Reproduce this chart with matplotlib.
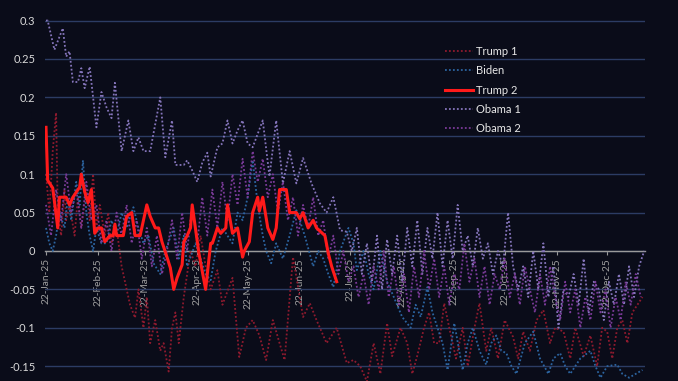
import matplotlib
matplotlib.use("Agg")
import matplotlib.pyplot as plt
import matplotlib.dates as mdates
from matplotlib.ticker import FuncFormatter
import datetime as dt

start = dt.date(2025, 1, 22)

series_names = ["Trump 1", "Biden", "Trump 2", "Obama 1", "Obama 2"]

trump1_days = [0,2,4,6,7,9,11,12,14,17,19,21,24,26,28,30,32,35,37,39,42,45,47,50,53,55,58,60,62,65,
               68,70,73,75,77,79,82,84,86,89,92,95,98,102,105,111,115,119,123,127,131,135,139,142,147,
               153,157,161,167,173,179,183,187,191,195,199,203,206,211,215,218,221,225,228,231,234,237,
               240,244,248,251,255,258,262,265,269,273,278,281,284,288,292,296,300,303,308,312,315,320,
               324,328,331,334,337,340,343,346,349,352,355]
trump1_vals = [0.1,0.05,0.13,0.18,0.05,0.02,0.08,0.04,0.06,0.02,0.07,0.03,0.08,0.04,0.1,0.03,0.06,0.02,0.05,0.01,
               0.03,-0.02,-0.04,-0.07,-0.087,-0.05,-0.1,-0.06,-0.12,-0.09,-0.13,-0.12,-0.157,-0.1,-0.08,
               -0.12,-0.06,-0.03,0.0,-0.02,0.02,-0.02,-0.05,-0.025,-0.07,-0.035,-0.138,-0.1,-0.09,-0.11,
               -0.142,-0.09,-0.12,-0.142,-0.008,-0.086,-0.068,-0.09,-0.12,-0.1,-0.146,-0.142,-0.15,-0.17,-0.12,
               -0.16,-0.094,-0.137,-0.1,-0.12,-0.16,-0.136,-0.1,-0.08,-0.12,-0.12,-0.068,-0.1,-0.14,-0.1,
               -0.15,-0.1,-0.068,-0.13,-0.1,-0.14,-0.09,-0.112,-0.14,-0.105,-0.13,-0.09,-0.077,-0.12,-0.1,
               -0.105,-0.14,-0.1,-0.137,-0.11,-0.15,-0.1,-0.105,-0.14,-0.1,-0.09,-0.12,-0.08,-0.07,-0.06]

biden_days = [0,2,4,6,8,11,13,15,18,20,22,24,26,28,30,33,36,39,42,45,48,52,55,58,61,64,68,71,76,79,
              82,84,89,92,95,98,101,105,108,111,114,117,120,123,126,129,131,134,137,141,145,149,154,159,162,
              165,168,171,175,178,180,183,185,189,192,195,199,203,207,212,217,220,223,227,230,233,236,239,243,248,
              251,254,258,262,265,268,271,274,277,280,285,290,294,299,302,306,309,312,318,324,327,330,334,340,343,
              347,351,355]
biden_vals = [0.03,0.01,0.0,0.02,0.05,0.03,0.07,0.04,0.09,0.06,0.118,0.05,0.02,0.0,0.03,0.01,0.01,0.04,0.02,0.05,
              0.03,0.057,0.03,0.01,0.02,-0.016,-0.03,0.0,0.03,-0.01,0.02,-0.02,0.01,-0.01,-0.03,-0.038,0.0,0.03,0.02,0.01,
              0.05,0.04,0.07,0.118,0.06,0.02,0.0,-0.016,0.01,-0.01,0.02,0.053,0.02,-0.02,0.0,-0.01,-0.03,-0.047,0.0,0.018,
              0.03,0.01,-0.025,0.0,-0.03,-0.05,0.0,-0.04,-0.06,-0.086,-0.1,-0.07,-0.086,-0.047,-0.08,-0.1,-0.12,-0.155,-0.094,-0.155,
              -0.12,-0.1,-0.13,-0.148,-0.12,-0.11,-0.13,-0.133,-0.15,-0.16,-0.12,-0.105,-0.14,-0.16,-0.14,-0.133,-0.15,-0.16,-0.14,-0.13,
              -0.15,-0.165,-0.15,-0.148,-0.16,-0.165,-0.16,-0.155]

trump2_days = [0,1,4,7,8,12,14,16,20,21,23,25,27,29,31,33,35,38,40,41,42,46,48,51,53,56,58,60,62,65,
               67,69,72,74,76,78,81,82,84,86,87,91,95,98,99,102,104,107,108,111,114,117,118,121,123,126,127,129,132,135,
               137,139,143,145,149,151,153,156,159,161,166,168,170,173]
trump2_vals = [0.161,0.092,0.082,0.03,0.07,0.07,0.06,0.07,0.083,0.10,0.077,0.063,0.08,0.023,0.03,0.03,0.012,0.02,0.02,0.035,
               0.02,0.02,0.045,0.05,0.02,0.02,0.04,0.06,0.045,0.03,0.03,0.012,-0.008,-0.022,-0.05,-0.035,-0.018,0.012,0.02,0.03,
               0.06,-0.003,-0.05,0.01,0.01,0.03,0.023,0.03,0.06,0.023,0.03,-0.008,0.0,0.012,0.05,0.07,0.052,0.07,0.03,0.015,
               0.03,0.08,0.08,0.05,0.05,0.042,0.05,0.03,0.04,0.03,0.02,-0.003,-0.02,-0.04]

obama1_days = [0,1,5,10,12,14,16,19,21,23,26,30,33,36,39,41,45,49,52,55,58,62,68,71,75,77,82,84,87,90,
               93,96,98,102,105,108,111,114,117,120,123,129,133,137,141,145,149,153,158,163,167,171,175,179,
               182,185,188,191,194,197,200,203,206,209,212,215,218,221,224,227,230,233,236,239,242,245,248,251,
               254,257,260,263,266,269,272,275,278,281,284,287,290,293,296,299,302,305,308,311,314,317,320,323,
               326,329,332,335,338,341,344,347,350,353,356]
obama1_vals = [0.30,0.30,0.262,0.29,0.253,0.26,0.22,0.22,0.238,0.212,0.24,0.161,0.207,0.187,0.173,0.219,0.13,0.17,0.13,0.148,
               0.13,0.13,0.2,0.122,0.17,0.112,0.112,0.118,0.105,0.09,0.115,0.128,0.097,0.135,0.14,0.17,0.14,0.157,0.17,0.14,
               0.135,0.17,0.097,0.17,0.088,0.13,0.088,0.121,0.088,0.062,0.05,0.07,0.027,0.025,
               0.0,0.03,-0.03,0.01,-0.04,0.02,-0.05,0.015,-0.03,0.02,-0.04,0.03,-0.02,0.04,-0.03,0.03,-0.01,0.05,-0.02,0.04,
               -0.01,0.06,0.0,0.02,-0.02,0.03,-0.01,0.01,-0.03,0.0,-0.02,0.05,-0.02,-0.05,-0.02,-0.06,0.0,-0.05,0.01,-0.06,
               -0.02,-0.1,-0.05,-0.06,-0.03,-0.07,-0.01,-0.08,-0.04,-0.05,-0.09,-0.04,-0.07,-0.03,-0.07,-0.02,-0.06,-0.02,0.0]

obama2_days = list(range(0, 357, 3))
obama2_vals = [0.06,0.02,0.08,0.04,0.1,0.05,0.08,0.03,0.09,0.04,
               0.06,0.01,0.04,0.0,0.05,0.02,0.06,0.01,0.04,-0.01,
               0.03,-0.02,0.02,-0.03,0.0,0.04,-0.01,0.05,0.0,0.06,
               0.01,0.07,0.02,0.08,0.03,0.09,0.04,0.1,0.06,0.12,
               0.07,0.13,0.09,0.12,0.07,0.1,0.05,0.09,0.04,0.07,
               0.02,0.06,0.03,0.07,0.02,0.04,-0.01,0.02,-0.03,0.0,
               -0.04,-0.02,-0.06,-0.03,-0.07,-0.02,-0.05,0.0,-0.06,-0.02,
               -0.07,-0.03,-0.08,-0.02,-0.06,0.0,-0.05,-0.01,-0.06,-0.02,
               -0.07,-0.03,-0.05,0.01,-0.04,-0.01,-0.06,-0.02,-0.07,-0.03,
               -0.05,-0.01,-0.06,-0.03,-0.07,-0.02,-0.05,-0.08,-0.03,-0.07,
               -0.02,-0.06,-0.09,-0.04,-0.08,-0.05,-0.1,-0.06,-0.09,-0.04,
               -0.08,-0.05,-0.1,-0.06,-0.09,-0.04,-0.07,-0.03,-0.06]

y_ticks = [-0.15, -0.1, -0.05, 0, 0.05, 0.1, 0.15, 0.2, 0.25, 0.3]

bg = "#0a0c19"
plt.rcParams['font.family'] = ['Lato', 'DejaVu Sans']

fig = plt.figure(figsize=(6.78, 3.81), dpi=100, facecolor=bg)
ax = fig.add_axes([45/678, 0, 600/678, 1])
ax.set_facecolor(bg)

def to_dates(days):
    return [start + dt.timedelta(days=int(d)) for d in days]

dot = (0, (1, 1.2))
ax.plot(to_dates(trump1_days), trump1_vals, color="#8e1a2e", lw=1.3, ls=dot, label="Trump 1", zorder=3)
ax.plot(to_dates(biden_days), biden_vals, color="#2c64a0", lw=1.3, ls=dot, label="Biden", zorder=3)
ax.plot(to_dates(obama1_days), obama1_vals, color="#8575bb", lw=1.3, ls=dot, label="Obama 1", zorder=3)
ax.plot(to_dates(obama2_days), obama2_vals, color="#7a3a98", lw=1.3, ls=dot, label="Obama 2", zorder=3)
ax.plot(to_dates(trump2_days), trump2_vals, color="#ff1a1a", lw=2.2, ls="-", label="Trump 2", zorder=4)

x0 = mdates.date2num(start)
ax.set_xlim(x0 - 0.6, x0 + 356.5)
ax.set_ylim(-0.1693, 0.3268)

ax.set_yticks(y_ticks)
ax.yaxis.set_major_formatter(FuncFormatter(lambda v, p: "0" if abs(v) < 1e-9 else ("%g" % v)))
ax.tick_params(axis="y", length=0, pad=7, colors="#d9d9d9", labelsize=8)
ax.grid(axis="y", color="#2c3c64", lw=1.0, zorder=1)
ax.grid(axis="x", visible=False)

ax.xaxis.set_major_locator(mdates.MonthLocator(bymonthday=22))
ax.xaxis.set_major_formatter(mdates.DateFormatter("%d-%b-%y"))
ax.tick_params(axis="x", length=3, width=0.8, color="#9a9a9a", colors="#a0a0a0",
               labelsize=7.3, rotation=90, pad=2, direction="out")

for s in ["top", "right", "left"]:
    ax.spines[s].set_visible(False)
ax.spines["bottom"].set_position(("data", 0))
ax.spines["bottom"].set_color("#9a9a9a")
ax.spines["bottom"].set_linewidth(1.0)
ax.spines["bottom"].set_zorder(2)

handles, labels = ax.get_legend_handles_labels()
order = [labels.index(n) for n in series_names]
leg = ax.legend([handles[i] for i in order], [labels[i] for i in order],
                loc="center left", bbox_to_anchor=(445/678, 1 - 90/381),
                bbox_transform=fig.transFigure, frameon=False, fontsize=8,
                labelcolor="#e8e8e8", handlelength=2.5, handletextpad=0.3,
                labelspacing=0.75, borderpad=0, borderaxespad=0)

fig.savefig("out.png", dpi=100, facecolor=bg)
